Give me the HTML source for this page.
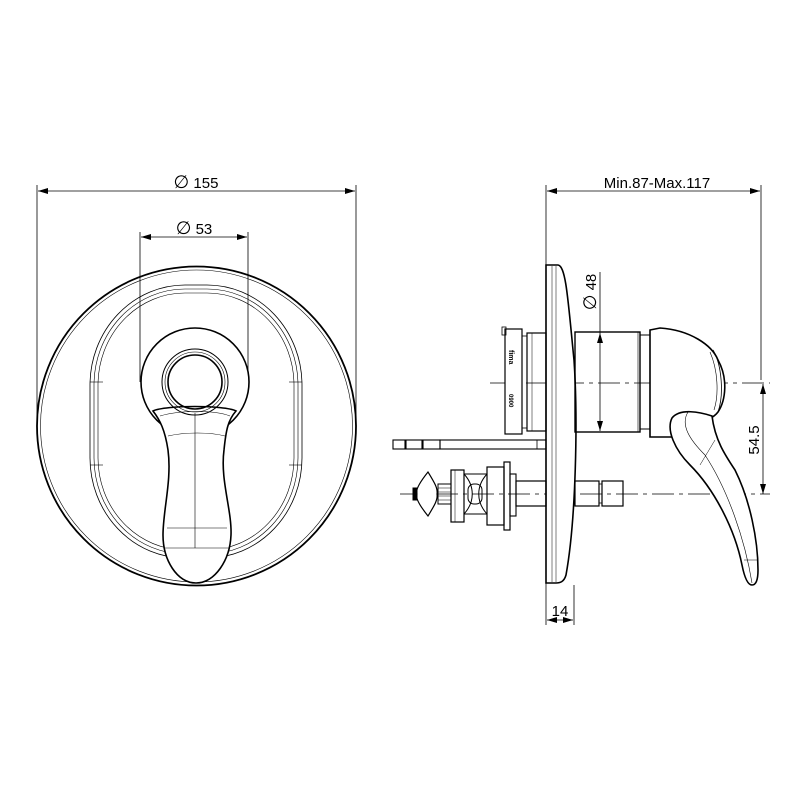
<!DOCTYPE html>
<html><head><style>html,body{margin:0;padding:0;background:#fff}svg{display:block}</style></head>
<body>
<svg width="800" height="800" viewBox="0 0 800 800" xmlns="http://www.w3.org/2000/svg" font-family="Liberation Sans, sans-serif">
<defs>
<marker id="a" viewBox="0 0 10 6" refX="10" refY="3" markerWidth="10" markerHeight="6" orient="auto-start-reverse" markerUnits="userSpaceOnUse"><path d="M0,0L10,3L0,6z" fill="#000"/></marker>
</defs>
<g fill="none" stroke="#000">
<g stroke-width="0.8">
<line x1="37" y1="185" x2="37" y2="425"/>
<line x1="356" y1="185" x2="356" y2="425"/>
<line x1="38" y1="191" x2="355" y2="191" marker-start="url(#a)" marker-end="url(#a)"/>
<line x1="140" y1="232" x2="140" y2="382"/>
<line x1="248" y1="232" x2="248" y2="382"/>
<line x1="141" y1="237" x2="247" y2="237" marker-start="url(#a)" marker-end="url(#a)"/>
</g>
<circle cx="196.5" cy="426" r="159.5" stroke-width="1.8"/>
<circle cx="196.5" cy="426" r="156" stroke-width="0.6"/>
<rect x="90" y="285" width="212" height="273" rx="95" ry="100" stroke-width="0.8"/>
<rect x="94" y="289" width="204" height="265" rx="91" ry="96" stroke-width="0.6"/>
<rect x="98" y="293" width="196" height="257" rx="87" ry="92" stroke-width="0.6"/>
<line x1="90" y1="382" x2="103" y2="382" stroke-width="0.6"/>
<line x1="90" y1="465" x2="103" y2="465" stroke-width="0.6"/>
<line x1="289" y1="382" x2="302" y2="382" stroke-width="0.6"/>
<line x1="289" y1="465" x2="302" y2="465" stroke-width="0.6"/>
<circle cx="195" cy="382" r="54" stroke-width="1.6" fill="#fff"/>
<path d="M153,411 C165,405 225,405 236,411 C228,420 226,430 224,450 C220,480 232,510 231,535 C230,560 215,583 196,583 C177,583 163,560 163,535 C163,510 172,480 168,450 C165,430 160,420 153,411 Z" stroke-width="1.6" fill="#fff"/>
<path d="M160,416 C180,410 215,410 230,416" stroke-width="0.6"/>
<path d="M168,436 C185,432 210,432 225,436" stroke-width="0.6"/>
<line x1="195" y1="413" x2="195" y2="548" stroke-width="0.6"/>
<line x1="167" y1="528" x2="227" y2="528" stroke-width="0.6"/>
<line x1="164" y1="548" x2="230" y2="548" stroke-width="0.6"/>
<circle cx="195" cy="382" r="33" stroke-width="1"/>
<circle cx="195" cy="382" r="30" stroke-width="0.6"/>
<circle cx="195" cy="382" r="27" stroke-width="1.6"/>

<g stroke-width="0.8">
<line x1="546" y1="185" x2="546" y2="625"/>
<line x1="761" y1="185" x2="761" y2="380"/>
<line x1="547" y1="191" x2="760" y2="191" marker-start="url(#a)" marker-end="url(#a)"/>
<line x1="574" y1="585" x2="574" y2="625"/>
<line x1="547" y1="620" x2="573" y2="620" marker-start="url(#a)" marker-end="url(#a)"/>
<line x1="600" y1="272" x2="600" y2="333"/>
<line x1="600" y1="333" x2="600" y2="431" marker-start="url(#a)" marker-end="url(#a)"/>
<line x1="763" y1="384" x2="763" y2="494" marker-start="url(#a)" marker-end="url(#a)"/>
<line x1="490" y1="383" x2="770" y2="383" stroke-dasharray="22,5,4,5"/>
<line x1="400" y1="494" x2="770" y2="494" stroke-dasharray="22,5,4,5"/>
</g>
<path d="M546,265 L558,265 C566,266 568,300 574,360 C578,420 576,520 566,575 C564,582 560,583 556,583 L546,583 Z" stroke-width="1.6" fill="#fff"/>
<line x1="552" y1="266" x2="552" y2="582" stroke-width="0.5"/>
<line x1="556" y1="266" x2="556" y2="582" stroke-width="0.5"/>
<rect x="575" y="332" width="65" height="100" stroke-width="1.4"/>
<line x1="638" y1="332" x2="638" y2="432" stroke-width="0.6"/>
<rect x="527" y="333" width="19" height="98" stroke-width="1.2"/>
<line x1="532" y1="333" x2="532" y2="431" stroke-width="0.5"/>
<rect x="640" y="335" width="10" height="94" stroke-width="1"/>
<rect x="505" y="329" width="17" height="105" stroke-width="1.2" fill="#fff"/>
<rect x="502" y="327" width="4" height="8" stroke-width="0.8"/>
<rect x="522" y="336" width="5" height="92" stroke-width="0.8"/>
<text x="0" y="0" font-size="7" font-weight="bold" fill="#000" stroke="none" transform="translate(509,350) rotate(90)">fima</text>
<text x="0" y="0" font-size="6" font-weight="bold" fill="#000" stroke="none" transform="translate(509,394) rotate(90)">0900</text>
<path d="M650,330 L660,328 C690,330 712,345 718,360 C728,378 726,400 718,412 C712,420 703,420 700,428 C698,432 690,437 680,437 L650,437 Z" stroke-width="1.6" fill="#fff"/>
<path d="M713,350 C722,365 724,395 718,412" stroke-width="0.8"/>
<path d="M710,352 C718,370 719,395 714,410" stroke-width="0.6"/>
<path d="M712,416 C700,412 680,408 672,418 C666,430 675,450 690,465 C715,490 735,530 742,565 C744,575 747,585 752,585 C756,585 758,580 758,570 C758,540 750,500 735,470 C725,455 715,440 712,416 Z" stroke-width="1.6" fill="#fff"/>
<path d="M688,412 C680,425 690,440 705,455 C728,490 745,540 752,583" stroke-width="0.6"/>
<line x1="700" y1="465" x2="715" y2="440" stroke-width="0.5"/>
<line x1="744" y1="560" x2="757" y2="560" stroke-width="0.5"/>
<rect x="440" y="440" width="106" height="9" stroke-width="1.1"/>
<rect x="393" y="440" width="12" height="9" stroke-width="1.1"/>
<rect x="406" y="440" width="16" height="9" stroke-width="1.1"/>
<rect x="423" y="440" width="17" height="9" stroke-width="1.1"/>
<rect x="537" y="440" width="9" height="9" stroke-width="0.8"/>
<path d="M428,472 C420,482 415,490 417,494 C415,498 420,506 428,516 C434,506 438,500 437,494 C438,488 434,482 428,472 Z" stroke-width="1.2" fill="#fff"/>
<rect x="413" y="488" width="4" height="12" stroke-width="1" fill="#000"/>
<rect x="438" y="484" width="13" height="20" stroke-width="1"/>
<path d="M438,488h13M438,492h13M438,496h13M438,500h13" stroke-width="0.6"/>
<rect x="451" y="470" width="13" height="52" stroke-width="1.2"/>
<line x1="455" y1="470" x2="455" y2="522" stroke-width="0.5"/>
<path d="M464,474 C475,486 475,502 464,514" stroke-width="1"/>
<path d="M487,474 C476,486 476,502 487,514" stroke-width="1"/>
<line x1="464" y1="474" x2="487" y2="474" stroke-width="1"/>
<line x1="464" y1="514" x2="487" y2="514" stroke-width="1"/>
<rect x="468" y="484" width="14" height="20" rx="6" stroke-width="1"/>
<rect x="487" y="467" width="17" height="58" stroke-width="1.2"/>
<rect x="504" y="462" width="6" height="68" stroke-width="1.2"/>
<rect x="510" y="474" width="6" height="42" stroke-width="1.1"/>
<rect x="516" y="481" width="30" height="25" stroke-width="1.2"/>
<rect x="575" y="481" width="24" height="25" stroke-width="1.2"/>
<rect x="602" y="481" width="21" height="25" stroke-width="1.2"/>
<rect x="599" y="484" width="3" height="19" stroke-width="0.8"/>
</g>
<g fill="#000" font-size="15">
<text x="196" y="188" text-anchor="middle"><tspan font-size="18">∅</tspan> 155</text>
<text x="194" y="234" text-anchor="middle"><tspan font-size="18">∅</tspan> 53</text>
<text x="657" y="188" text-anchor="middle">Min.87-Max.117</text>
<text x="560" y="616" text-anchor="middle">14</text>
<text transform="translate(596,292) rotate(-90)" text-anchor="middle"><tspan font-size="18">∅</tspan> 48</text>
<text transform="translate(759,440) rotate(-90)" text-anchor="middle">54.5</text>
</g>
</svg>
</body></html>
